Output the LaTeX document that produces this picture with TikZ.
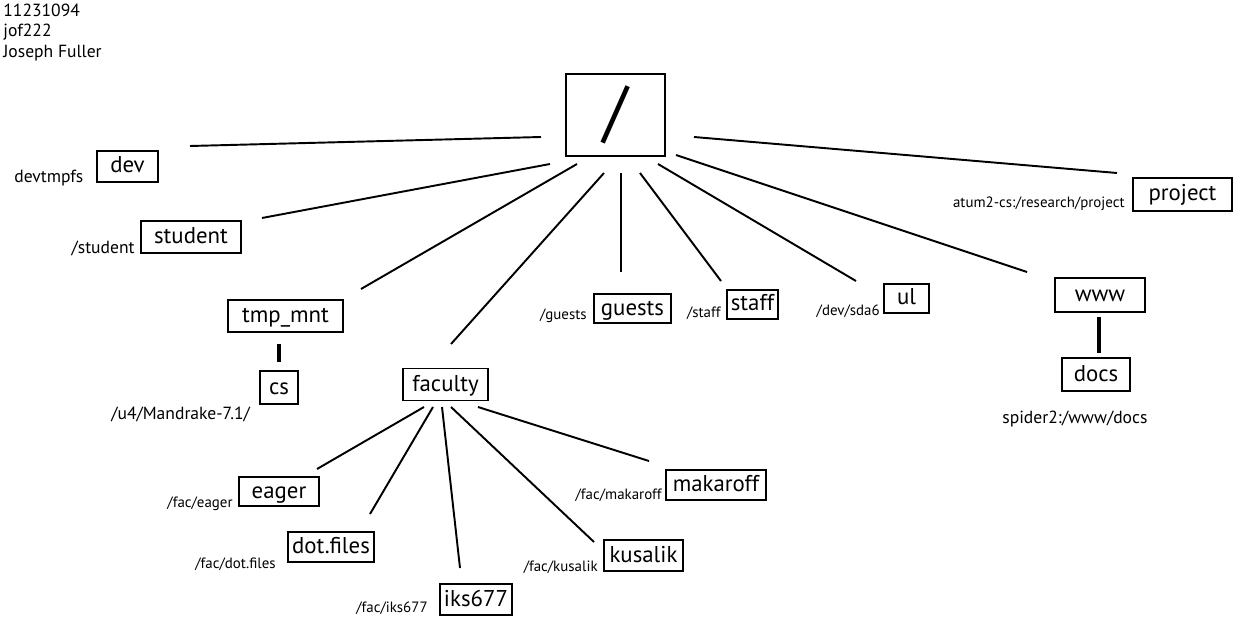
\documentclass[tikz,border=0pt]{standalone}
\usepackage{fontspec}
\setmainfont{PT Sans}
\usetikzlibrary{positioning}

\tikzset{
  dir/.style={draw, line width=0.95pt, inner sep=0pt, text height=0.36cm, text depth=0.1cm,
    font=\fontsize{13}{15}\selectfont},
  mnt/.style={inner sep=0pt, font=\fontsize{8.5}{10}\selectfont},
  mntbig/.style={inner sep=0pt, font=\fontsize{10}{12}\selectfont},
  link/.style={line width=1.1pt},
  stub/.style={line width=2.2pt}
}

\begin{document}
\begin{tikzpicture}[x=0.02cm, y=-0.02cm]
\useasboundingbox (0,0) rectangle (1233,618);
% who
\node[mntbig, anchor=base west] (id) at (3,17) {11231094};
\node[mntbig, anchor=base west] (user) at (3,37) {jof222};
\node[mntbig, anchor=base west] (name) at (3,58) {Joseph Fuller};
% root
\node[draw, line width=1.1pt, minimum width=1.98cm, minimum height=1.64cm,
  font=\fontsize{39}{41}\selectfont] (root) at (615.5,115) {/};
% first level
\node[dir, minimum width=1.22cm, minimum height=0.62cm] (dev) at (127.5,166.5) {dev};
\node[dir, minimum width=2.0cm, minimum height=0.64cm] (student) at (191,237) {student};
\node[dir, minimum width=2.3cm, minimum height=0.64cm] (tmp) at (285.5,316) {tmp\_mnt};
\node[dir, minimum width=0.76cm, minimum height=0.66cm] (cs) at (279,387.5) {cs};
\node[dir, minimum width=1.7cm, minimum height=0.64cm] (faculty) at (445.5,384.5) {faculty};
\node[dir, minimum width=1.54cm, minimum height=0.58cm] (guests) at (632.5,308.5) {guests};
\node[dir, minimum width=1.02cm, minimum height=0.58cm] (staff) at (752.5,304.5) {staff};
\node[dir, minimum width=0.9cm, minimum height=0.58cm] (ul) at (906.5,298.5) {ul};
\node[dir, minimum width=1.8cm, minimum height=0.68cm] (www) at (1100,295) {www};
\node[dir, minimum width=1.36cm, minimum height=0.66cm] (docs) at (1096,374.5) {docs};
\node[dir, minimum width=1.98cm, minimum height=0.66cm] (project) at (1182.5,194.5) {project};
% faculty
\node[dir, minimum width=1.6cm, minimum height=0.58cm] (eager) at (279,491.5) {eager};
\node[dir, minimum width=1.72cm, minimum height=0.6cm] (dotfiles) at (331,547) {dot.files};
\node[dir, minimum width=1.44cm, minimum height=0.62cm] (iks) at (476,599.5) {iks677};
\node[dir, minimum width=1.58cm, minimum height=0.62cm] (kusalik) at (643.5,555.5) {kusalik};
\node[dir, minimum width=2.0cm, minimum height=0.6cm] (makaroff) at (716,485) {makaroff};
% mount sources
\node[mntbig, anchor=base west] (devsrc) at (14,183) {devtmpfs};
\node[mntbig, anchor=base east] (studentsrc) at (135,254) {/student};
\node[mntbig, anchor=base west] (cssrc) at (111,419) {/u4/Mandrake-7.1/};
\node[mnt, anchor=base east] (guestssrc) at (587,319) {/guests};
\node[mnt, anchor=base east] (staffsrc) at (721,317) {/staff};
\node[mnt, anchor=base east] (ulsrc) at (880,315) {/dev/sda6};
\node[mnt, anchor=base east] (projectsrc) at (1125,208) {atum2-cs:/research/project};
\node[mntbig, anchor=base west] (docssrc) at (1002,423) {spider2:/www/docs};
\node[mnt, anchor=base east] (eagersrc) at (233,507) {/fac/eager};
\node[mnt, anchor=base east] (dotfilessrc) at (276,568) {/fac/dot.files};
\node[mnt, anchor=base east] (ikssrc) at (428,612) {/fac/iks677};
\node[mnt, anchor=base east] (kusaliksrc) at (598,571) {/fac/kusalik};
\node[mnt, anchor=base east] (makaroffsrc) at (662,499) {/fac/makaroff};
% line ends
\coordinate (r-dev) at (541,137);      \coordinate (dev-in) at (190,146);
\coordinate (r-student) at (550,164);  \coordinate (student-in) at (262,218);
\coordinate (r-tmp) at (577,164);      \coordinate (tmp-in) at (361,289);
\coordinate (r-faculty) at (604,173);  \coordinate (faculty-in) at (451,344);
\coordinate (r-guests) at (621,173);   \coordinate (guests-in) at (621,272);
\coordinate (r-staff) at (640,173);    \coordinate (staff-in) at (721,281);
\coordinate (r-ul) at (658,164);       \coordinate (ul-in) at (856,281);
\coordinate (r-www) at (676,155);      \coordinate (www-in) at (1027,272);
\coordinate (r-project) at (694,137);  \coordinate (project-in) at (1117,173);
\coordinate (tmp-out) at (279,344);    \coordinate (cs-in) at (279,362);
\coordinate (www-out) at (1099,317);   \coordinate (docs-in) at (1099,353);
\coordinate (f-eager) at (424,407);    \coordinate (eager-in) at (317,469);
\coordinate (f-dotfiles) at (433,407); \coordinate (dotfiles-in) at (370,514);
\coordinate (f-iks) at (442,407);      \coordinate (iks-in) at (460,568);
\coordinate (f-kusalik) at (451,407);  \coordinate (kusalik-in) at (594,542);
\coordinate (f-makaroff) at (478,407); \coordinate (makaroff-in) at (649,461);
% links
\draw[link] (r-dev) -- (dev-in);
\draw[link] (r-student) -- (student-in);
\draw[link] (r-tmp) -- (tmp-in);
\draw[link] (r-faculty) -- (faculty-in);
\draw[link] (r-guests) -- (guests-in);
\draw[link] (r-staff) -- (staff-in);
\draw[link] (r-ul) -- (ul-in);
\draw[link] (r-www) -- (www-in);
\draw[link] (r-project) -- (project-in);
\draw[stub] (tmp-out) -- (cs-in);
\draw[stub] (www-out) -- (docs-in);
\draw[link] (f-eager) -- (eager-in);
\draw[link] (f-dotfiles) -- (dotfiles-in);
\draw[link] (f-iks) -- (iks-in);
\draw[link] (f-kusalik) -- (kusalik-in);
\draw[link] (f-makaroff) -- (makaroff-in);
\end{tikzpicture}
\end{document}
